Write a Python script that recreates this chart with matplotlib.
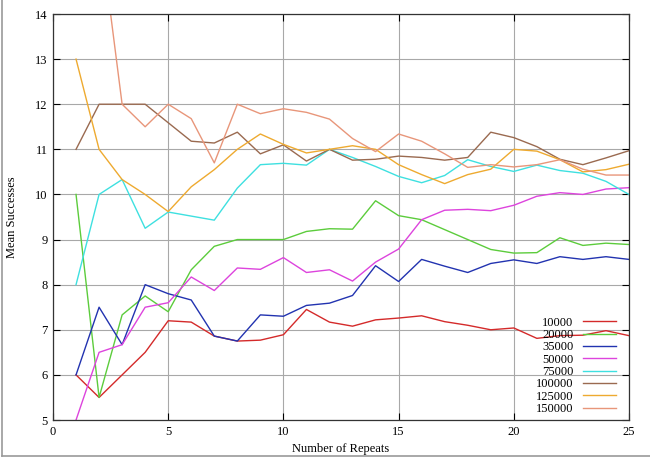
import matplotlib
matplotlib.use("Agg")
import matplotlib.pyplot as plt
from matplotlib.lines import Line2D

# mean successes per number of repeats, one list per population size
repeats = list(range(1, 26))

s10000 = [6.0, 5.5, 6.0, 6.5, 7.2, 7.17, 6.86, 6.75, 6.77, 6.89, 7.45, 7.17, 7.08,
          7.22, 7.26, 7.31, 7.18, 7.1, 7.0, 7.04, 6.81, 6.87, 6.88, 6.98, 6.87]
s20000 = [10.0, 5.5, 7.33, 7.75, 7.4, 8.33, 8.85, 9.0, 9.0, 9.0, 9.18, 9.24, 9.23,
          9.86, 9.53, 9.44, 9.22, 9.0, 8.78, 8.7, 8.71, 9.04, 8.87, 8.92, 8.89]
s35000 = [6.0, 7.5, 6.67, 8.0, 7.8, 7.66, 6.86, 6.75, 7.33, 7.3, 7.54, 7.59, 7.76,
          8.42, 8.07, 8.56, 8.41, 8.27, 8.47, 8.55, 8.47, 8.62, 8.56, 8.62, 8.56]
s50000 = [5.0, 6.5, 6.67, 7.5, 7.6, 8.17, 7.87, 8.37, 8.34, 8.6, 8.27, 8.33, 8.08,
          8.5, 8.79, 9.44, 9.65, 9.67, 9.64, 9.76, 9.96, 10.04, 10.0, 10.12, 10.15]
s75000 = [8.0, 10.0, 10.33, 9.25, 9.61, 9.52, 9.43, 10.14, 10.66, 10.69, 10.65, 11.0,
          10.82, 10.62, 10.4, 10.26, 10.42, 10.77, 10.62, 10.51, 10.65, 10.53, 10.47,
          10.29, 10.0]
s100000 = [11.0, 12.0, 12.0, 12.0, 11.59, 11.18, 11.14, 11.38, 10.9, 11.1, 10.74,
           11.0, 10.76, 10.78, 10.85, 10.82, 10.76, 10.82, 11.38, 11.26, 11.06,
           10.78, 10.66, 10.81, 10.97]
s125000 = [13.0, 11.0, 10.33, 10.0, 9.62, 10.17, 10.55, 11.0, 11.34, 11.11, 10.92,
           11.0, 11.08, 11.0, 10.66, 10.44, 10.24, 10.44, 10.56, 11.0, 10.96, 10.77,
           10.5, 10.55, 10.67]
s150000 = [19.0, 16.0, 12.0, 11.5, 12.0, 11.68, 10.7, 12.0, 11.79, 11.9, 11.82,
           11.67, 11.24, 10.95, 11.34, 11.18, 10.9, 10.6, 10.66, 10.61, 10.66, 10.77,
           10.56, 10.43, 10.43]

labels = ["10000", "20000", "35000", "50000", "75000", "100000", "125000", "150000"]
series = [s10000, s20000, s35000, s50000, s75000, s100000, s125000, s150000]
colors = ["#d42a2a", "#5ccc3c", "#2233b0", "#dd44dd", "#3ee0e0",
          "#9a6a50", "#eeaa30", "#e8967a"]

plt.rcParams["font.family"] = ["Liberation Serif", "DejaVu Serif"]
plt.rcParams["font.size"] = 9

fig = plt.figure(figsize=(6.5, 4.58), dpi=100)
ax = fig.add_axes([53 / 650, 1 - 420 / 458, 576 / 650, 406 / 458])

for lab, vals, col in zip(labels, series, colors):
    ax.plot(repeats, vals, color=col, linewidth=1.0, label=lab)

ax.set_xlim(0, 25)
ax.set_ylim(5, 14)
ax.set_xticks(range(0, 26, 5))
ax.set_yticks(range(5, 15))
ax.grid(True, color="#a8a8a8", linewidth=0.8)
ax.tick_params(direction="in", length=5, width=0.8, top=True, right=True,
               labelsize=9, pad=4)
for sp in ax.spines.values():
    sp.set_linewidth(0.9)
    sp.set_color("#333333")

ax.set_xlabel("Number of Repeats", fontsize=9, labelpad=4)
ax.set_ylabel("Mean Successes", fontsize=9, labelpad=12)

leg = ax.legend(loc="lower right", bbox_to_anchor=(0.977, 0.012), frameon=False,
                markerfirst=False, handlelength=2.6, handletextpad=0.8,
                labelspacing=0.03, borderaxespad=0, borderpad=0, fontsize=9)

# grey frame of the original screenshot
fig.add_artist(Line2D([2 / 650, 2 / 650], [2 / 458, 1], color="#999999", linewidth=1.2))
fig.add_artist(Line2D([2 / 650, 1], [2 / 458, 2 / 458], color="#999999", linewidth=1.2))

fig.savefig("out.png", dpi=100)
